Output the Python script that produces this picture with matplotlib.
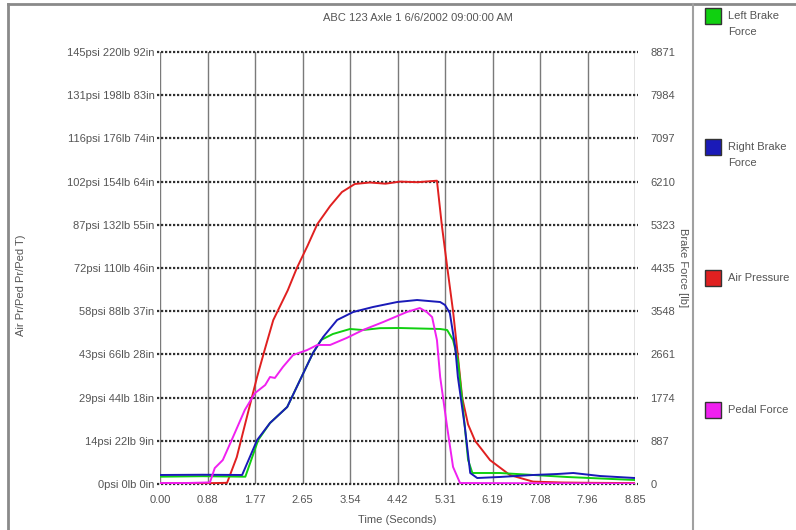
import matplotlib
matplotlib.use("Agg")
import matplotlib.pyplot as plt
from matplotlib.lines import Line2D
from matplotlib.patches import Rectangle
import numpy as np

plt.rcParams['font.family'] = ['Liberation Sans', 'DejaVu Sans']

title = "ABC 123 Axle 1 6/6/2002 09:00:00 AM"
x_tick_labels = ["0.00", "0.88", "1.77", "2.65", "3.54", "4.42", "5.31", "6.19", "7.08", "7.96", "8.85"]
left_tick_labels = ["0psi 0lb 0in", "14psi 22lb 9in", "29psi 44lb 18in", "43psi 66lb 28in",
                    "58psi 88lb 37in", "72psi 110lb 46in", "87psi 132lb 55in", "102psi 154lb 64in",
                    "116psi 176lb 74in", "131psi 198lb 83in", "145psi 220lb 92in"]
right_tick_labels = ["0", "887", "1774", "2661", "3548", "4435", "5323", "6210", "7097", "7984", "8871"]
t_max = 8.85
psi_max = 145
pedal_max = 220
force_max = 8871

# Air pressure (psi)
air_t = [0, 0.5, 1.0, 1.25, 1.43, 1.64, 1.81, 1.95, 2.11, 2.38, 2.55, 2.75, 2.93, 3.17, 3.39, 3.63, 3.91, 4.2,
         4.47, 4.8, 5.16, 5.25, 5.35, 5.46, 5.55, 5.63, 5.74, 5.87, 6.15, 6.52, 6.95, 7.5, 8.0, 8.85]
air_p = [0.3, 0.3, 0.3, 0.4, 9.0, 24.0, 36.0, 45.0, 55.0, 65.0, 72.5, 80.0, 87.2, 93.3, 98.0, 100.7, 101.2, 100.8,
         101.5, 101.3, 101.8, 87.0, 73.0, 58.0, 43.0, 29.0, 20.0, 14.5, 8.0, 3.0, 0.8, 0.5, 0.4, 0.3]

# Right brake force (lb)
right_t = [0, 0.8, 1.53, 1.81, 2.05, 2.37, 2.61, 2.85, 3.04, 3.30, 3.60, 3.97, 4.42, 4.79, 5.22, 5.31,
           5.40, 5.50, 5.55, 5.68, 5.78, 5.91, 6.33, 6.95, 7.40, 7.70, 8.20, 8.85]
right_f = [185, 190, 185, 904, 1253, 1581, 2136, 2690, 3019, 3368, 3532, 3635, 3737, 3778, 3737, 3676,
           3511, 2813, 2197, 1170, 226, 123, 144, 185, 205, 226, 164, 123]

# Left brake force (lb)
left_t = [0, 0.8, 1.59, 1.83, 2.05, 2.37, 2.61, 2.85, 3.00, 3.22, 3.54, 3.78, 4.10, 4.47, 5.22, 5.35, 5.46, 5.55,
          5.63, 5.74, 5.82, 6.33, 7.58, 8.85]
left_f = [150, 160, 150, 904, 1253, 1581, 2136, 2690, 2957, 3080, 3183, 3162, 3200, 3203, 3183, 3162, 2957, 2546,
          1725, 493, 226, 226, 144, 82]

# Pedal force (lb)
pedal_t = [0, 0.5, 0.93, 1.02, 1.17, 1.36, 1.58, 1.77, 1.96, 2.05, 2.14, 2.29, 2.48, 2.74, 2.93, 3.17, 3.48,
           3.78, 4.16, 4.47, 4.60, 4.84, 4.97, 5.07, 5.16, 5.22, 5.35, 5.46, 5.59, 8.85]
pedal_f = [0.5, 0.5, 0.8, 8.1, 12.2, 23.9, 37.7, 46.3, 50.4, 54.5, 54.0, 59.6, 65.7, 68.2, 70.8, 70.8, 74.4,
           78.4, 82.5, 86.1, 87.6, 89.6, 87.6, 85.0, 73.3, 54.5, 29.0, 8.7, 0.5, 0.2]

legend_labels = ["Left Brake\nForce", "Right Brake\nForce", "Air Pressure", "Pedal Force"]
colors = {"left": "#10d010", "right": "#1a1ab8", "air": "#e02020", "pedal": "#f020f0"}

W, H = 796, 530
fig = plt.figure(figsize=(W / 100, H / 100), dpi=100)
L, R, T, B = 160, 635, 52, 484
ax = fig.add_axes([L / W, 1 - B / H, (R - L) / W, (B - T) / H])
ax2 = ax.twinx()
ax3 = ax.twinx()

ax.set_xlim(0, t_max)
ax.set_ylim(0, psi_max)
ax2.set_ylim(0, force_max)
ax3.set_ylim(0, pedal_max)

xt = np.linspace(0, t_max, len(x_tick_labels))
ax.set_xticks(xt)
ax.set_xticklabels(x_tick_labels)
yt = np.linspace(0, psi_max, len(left_tick_labels))
ax.set_yticks(yt)
ax.set_yticklabels(left_tick_labels)
ax2.set_yticks(np.linspace(0, force_max, len(right_tick_labels)))
ax2.set_yticklabels(right_tick_labels)
ax3.set_yticks([])

tc = "#555555"
fs = 8
ax.tick_params(axis='x', length=0, labelsize=fs, labelcolor=tc, pad=8)
ax.tick_params(axis='y', length=0, labelsize=fs, labelcolor=tc, pad=4)
ax2.tick_params(axis='y', length=0, labelsize=fs, labelcolor=tc, pad=11)
for a in (ax, ax2, ax3):
    for s in a.spines.values():
        s.set_visible(False)

# grid
for x in xt:
    ax.axvline(x, color="#7a7a7a", lw=1.0, zorder=0)
for y in yt:
    ax.plot([-0.05, t_max + 0.05], [y, y], color="#303030", lw=1.6, ls=(0, (1, 0.8)),
            zorder=0.5, clip_on=False)

ax.set_xlabel("Time (Seconds)", fontsize=fs, color=tc)
ax.xaxis.set_label_coords(0.5, -(515 - B) / (B - T), transform=ax.transAxes)
ax.set_ylabel("Air Pr/Ped Pr/Ped T)", fontsize=fs, color=tc)
ax.yaxis.set_label_coords((26 - L) / (R - L), (B - 285) / (B - T))
ax2.set_ylabel("Brake Force [lb]", fontsize=fs, color=tc, rotation=270, va="center")
ax2.yaxis.set_label_coords((683 - L) / (R - L), 0.5)
fig.text(418 / W, 1 - 18 / H, title, fontsize=fs, color=tc, ha="center", va="center")

lw = 1.4
ax.plot(air_t, air_p, color=colors["air"], lw=lw, zorder=3)
ax2.plot(left_t, left_f, color=colors["left"], lw=lw, zorder=2)
ax2.plot(right_t, right_f, color=colors["right"], lw=lw, zorder=3)
ax3.plot(pedal_t, pedal_f, color=colors["pedal"], lw=lw, zorder=3)

# frame lines
fig.add_artist(Line2D([8 / W, 8 / W], [0, 1 - 4 / H], color="#8a8a8a", lw=2))
fig.add_artist(Line2D([8 / W, 1], [1 - 4 / H, 1 - 4 / H], color="#8a8a8a", lw=2))
fig.add_artist(Line2D([693 / W, 693 / W], [0, 1 - 4 / H], color="#a0a0a0", lw=1.5))

# legend panel
leg_colors = [colors["left"], colors["right"], colors["air"], colors["pedal"]]
leg_y = [16, 147, 278, 410]
for lab, c, yy in zip(legend_labels, leg_colors, leg_y):
    fig.add_artist(Rectangle((705 / W, 1 - (yy + 8) / H), 16 / W, 16 / H, facecolor=c,
                             edgecolor="#333333", lw=1.0, transform=fig.transFigure))
    if "\n" in lab:
        first, second = lab.split("\n")
        fig.text(728 / W, 1 - yy / H, first, fontsize=fs, color=tc, va="center", ha="left")
        fig.text(728 / W, 1 - (yy + 16) / H, second, fontsize=fs, color=tc, va="center", ha="left")
    else:
        fig.text(728 / W, 1 - yy / H, lab, fontsize=fs, color=tc, va="center", ha="left")

fig.savefig("out.png", dpi=100)
